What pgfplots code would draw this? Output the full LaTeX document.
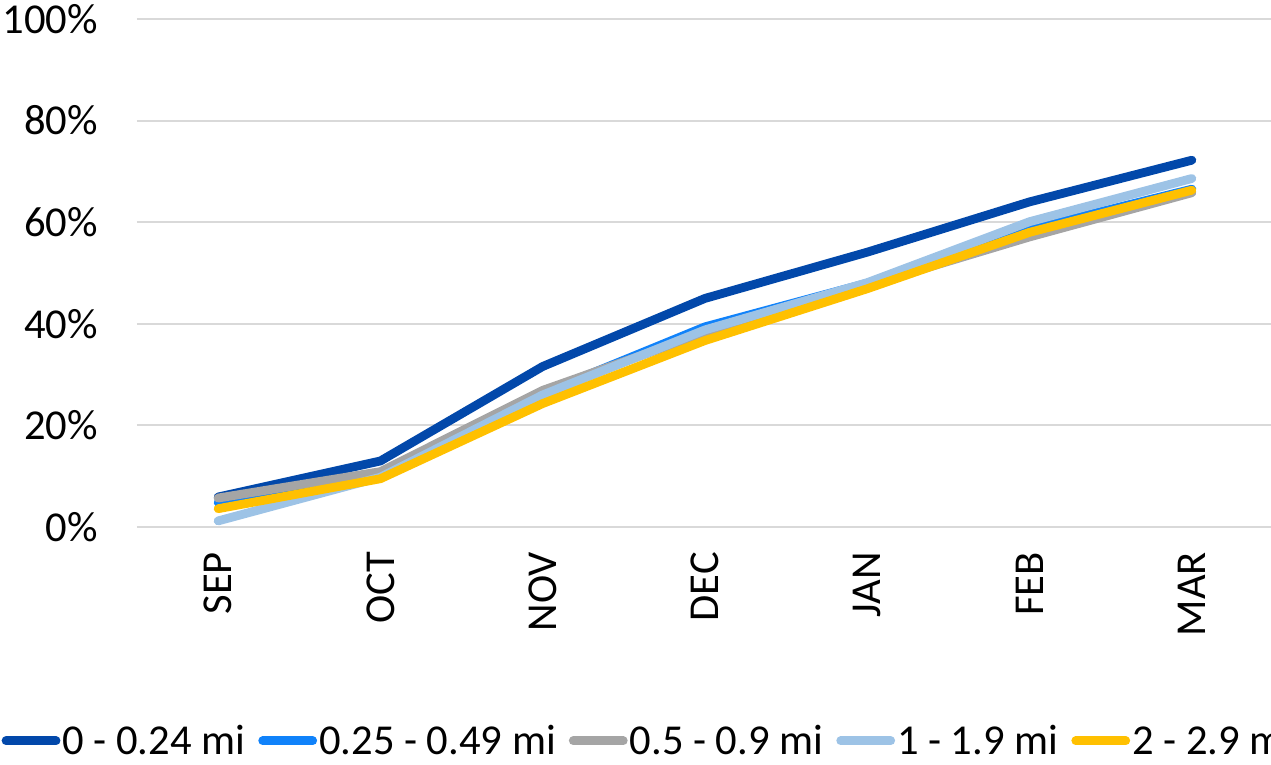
\documentclass[border=0pt]{standalone}
\usepackage{fontspec}
\setmainfont{Carlito}
\usepackage{pgfplots}
\pgfplotsset{compat=1.18}
\definecolor{cA}{RGB}{2,72,170}
\definecolor{cB}{RGB}{16,130,250}
\definecolor{cC}{RGB}{165,165,165}
\definecolor{cD}{RGB}{157,195,230}
\definecolor{cE}{RGB}{255,192,0}
\definecolor{gridc}{RGB}{217,217,217}
\begin{document}
\begin{tikzpicture}
\begin{axis}[
  at={(68.5pt,119pt)}, anchor=south west,
  scale only axis, width=568pt, height=254pt,
  xmin=-0.5, xmax=6.5, ymin=0, ymax=100,
  xtick={0,...,6},
  xticklabels={SEP,OCT,NOV,DEC,JAN,FEB,MAR},
  ytick={0,20,40,60,80,100},
  yticklabels={0\%,20\%,40\%,60\%,80\%,100\%},
  ymajorgrids, grid style={gridc, line width=1pt},
  axis line style={draw=none},
  major tick length=0pt,
  tick label style={font=\fontsize{21.3}{25}\selectfont},
  x tick label style={rotate=90, anchor=east},
  xticklabel shift=9pt,
  yticklabel shift=16pt,
  /pgf/number format/assume math mode=true,
  every axis plot/.append style={line width=4.4pt, line cap=round, line join=round, mark=none},
  legend columns=5,
  legend image code/.code={\draw[#1, line cap=round] (0pt,0pt) -- (25pt,0pt);},
  legend style={at={(-0.1195,-0.421)}, anchor=west, draw=none, fill=none, inner sep=0pt,
    font=\fontsize{21.3}{25}\selectfont,
    nodes={inner xsep=1pt, inner ysep=0pt},
    /tikz/every even column/.append style={column sep=5.5pt}},
]
\addplot[cA] coordinates {(0,5.9) (1,13.0) (2,31.6) (3,45.0) (4,54.1) (5,64.0) (6,72.2)};
\addlegendentry{0 - 0.24 mi}
\addplot[cB] coordinates {(0,4.8) (1,10.4) (2,26.3) (3,39.4) (4,48.0) (5,58.6) (6,66.5)};
\addlegendentry{0.25 - 0.49 mi}
\addplot[cC] coordinates {(0,5.7) (1,10.9) (2,26.9) (3,38.2) (4,47.5) (5,57.1) (6,65.8)};
\addlegendentry{0.5 - 0.9 mi}
\addplot[cD] coordinates {(0,1.2) (1,9.8) (2,26.0) (3,38.8) (4,48.1) (5,60.1) (6,68.6)};
\addlegendentry{1 - 1.9 mi}
\addplot[cE] coordinates {(0,3.6) (1,9.5) (2,24.3) (3,36.7) (4,46.9) (5,58.0) (6,66.3)};
\addlegendentry{2 - 2.9 mi}
\end{axis}
\pgfresetboundingbox
\path (0,0) rectangle (635.5pt,382.5pt);
\end{tikzpicture}
\end{document}
